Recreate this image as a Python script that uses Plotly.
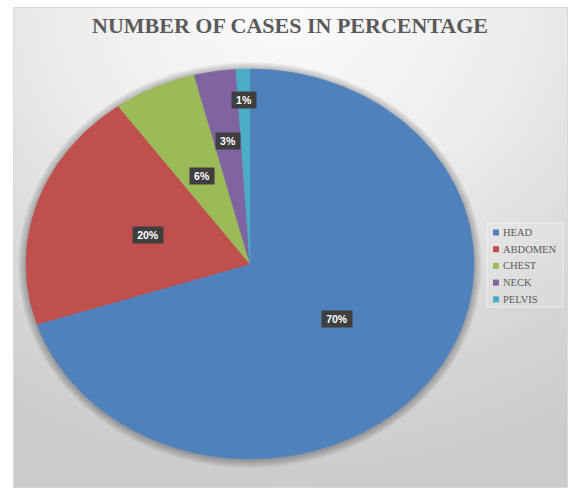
import math
import base64
import plotly.graph_objects as go

# ---- data ----
CATEGORIES = ["HEAD", "ABDOMEN", "CHEST", "NECK", "PELVIS"]
VALUES = [70, 20, 6, 3, 1]
COLORS = ["#4F81BD", "#C0504D", "#9BBB59", "#8064A2", "#4BACC6"]
TITLE = "NUMBER OF CASES IN PERCENTAGE"

# ---- layout constants (pixels) ----
W, H = 568, 488
CX, CY, RX, RY = 250, 264, 224, 195
LABEL_R = [0.48, 0.48, 0.5, 0.64, 0.84]

fig = go.Figure()

# background (radial gradient frame) as an inline SVG image
svg = (
    "<svg xmlns='http://www.w3.org/2000/svg' width='555' height='481'>"
    "<defs><radialGradient id='g' cx='0.5' cy='0' r='1'>"
    "<stop offset='0' stop-color='#fbfbfb'/>"
    "<stop offset='0.4' stop-color='#ededed'/>"
    "<stop offset='0.75' stop-color='#d7d7d7'/>"
    "<stop offset='1' stop-color='#cbcbcb'/>"
    "</radialGradient></defs>"
    "<rect x='0.5' y='0.5' width='554' height='480' fill='url(#g)' stroke='#d9d9d9'/>"
    "</svg>"
)
src = "data:image/svg+xml;base64," + base64.b64encode(svg.encode()).decode()
fig.add_layout_image(dict(source=src, xref="paper", yref="paper",
                          x=13 / W, y=1 - 7 / H, sizex=555 / W, sizey=481 / H,
                          xanchor="left", yanchor="top", sizing="stretch",
                          layer="below"))

# soft shadow around pie
ring = [2 * math.pi * i / 240 for i in range(241)]
for k in range(8, 0, -1):
    fig.add_trace(go.Scatter(
        x=[CX + (RX + k) * math.sin(a) for a in ring],
        y=[CY + 1 - (RY + k) * math.cos(a) for a in ring],
        fill="toself", fillcolor="rgba(0,0,0,0.035)", line=dict(width=0),
        mode="lines", hoverinfo="skip", showlegend=False))

total = sum(VALUES)
start = 0.0
annotations = []
for cat, v, col, lr in zip(CATEGORIES, VALUES, COLORS, LABEL_R):
    frac = v / total
    a0 = 2 * math.pi * start
    a1 = 2 * math.pi * (start + frac)
    n = max(4, int(360 * frac))
    angs = [a0 + (a1 - a0) * i / n for i in range(n + 1)]
    xs = [CX] + [CX + RX * math.sin(a) for a in angs] + [CX]
    ys = [CY] + [CY - RY * math.cos(a) for a in angs] + [CY]
    fig.add_trace(go.Scatter(x=xs, y=ys, fill="toself", fillcolor=col,
                             line=dict(color=col, width=0.6), mode="lines",
                             name=cat, hoverinfo="name", showlegend=False))
    mid = (a0 + a1) / 2
    annotations.append(dict(
        x=CX + lr * RX * math.sin(mid), y=CY - lr * RY * math.cos(mid),
        xref="x", yref="y", showarrow=False,
        text="<b>%d%%</b>" % round(100 * frac),
        font=dict(family="Liberation Sans", size=10.5, color="white"),
        bgcolor="#3f3f3f", width=28 if frac >= 0.1 else 22, height=14,
        borderpad=1))
    start += frac

# title
annotations.append(dict(x=290, y=25, xref="x", yref="y", showarrow=False,
                        text="<b>" + TITLE + "</b>",
                        font=dict(family="Liberation Serif", size=22, color="#5a5a5a")))

# legend (squares as shapes, names as annotations)
LEG_X, LEG_Y0, LEG_DY = 493, 232.5, 16.7
shapes = [dict(type="rect", xref="x", yref="y", x0=487, x1=563, y0=223, y1=307,
               line=dict(color="rgba(255,255,255,0.5)", width=1),
               fillcolor="rgba(255,255,255,0.12)", layer="below")]
for i, (cat, col) in enumerate(zip(CATEGORIES, COLORS)):
    yy = LEG_Y0 + i * LEG_DY
    shapes.append(dict(type="rect", xref="x", yref="y", x0=LEG_X, x1=LEG_X + 6,
                       y0=yy - 3, y1=yy + 3, fillcolor=col, line=dict(width=0)))
    annotations.append(dict(
        x=LEG_X + 7.5, y=yy, xref="x", yref="y", showarrow=False,
        xanchor="left", yanchor="middle", text=cat,
        font=dict(family="Liberation Serif", size=10.5, color="#595959")))

fig.update_layout(
    width=W, height=H, margin=dict(l=0, r=0, t=0, b=0),
    paper_bgcolor="white", plot_bgcolor="rgba(0,0,0,0)",
    xaxis=dict(range=[0, W], visible=False, fixedrange=True),
    yaxis=dict(range=[H, 0], visible=False, fixedrange=True),
    annotations=annotations, showlegend=False, shapes=shapes,
)

fig.write_html("out.html")
